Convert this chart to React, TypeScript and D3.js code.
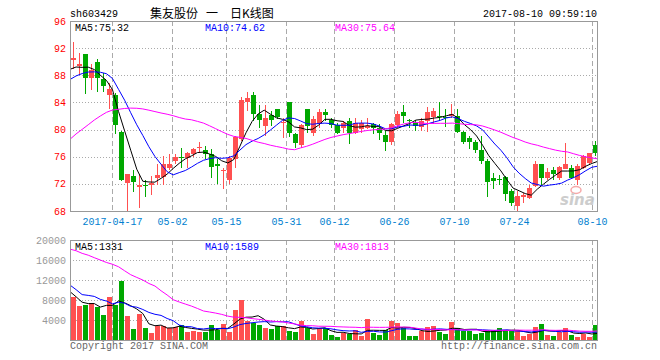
import React from "react";
import * as d3 from "d3";

// ---------- data ----------
const dates = [
  "04-06","04-07","04-10","04-11","04-12","04-13","04-14","04-17","04-18","04-19",
  "04-20","04-21","04-24","04-25","04-26","04-27","04-28","05-02","05-03","05-04",
  "05-05","05-08","05-09","05-10","05-11","05-12","05-15","05-16","05-17","05-18",
  "05-19","05-22","05-23","05-24","05-25","05-26","05-31","06-01","06-02","06-05",
  "06-06","06-07","06-08","06-09","06-12","06-13","06-14","06-15","06-16","06-19",
  "06-20","06-21","06-22","06-23","06-26","06-27","06-28","06-29","06-30","07-03",
  "07-04","07-05","07-06","07-07","07-10","07-11","07-12","07-13","07-14","07-17",
  "07-18","07-19","07-20","07-21","07-24","07-25","07-26","07-27","07-28","07-31",
  "08-01","08-02","08-03","08-04","08-07","08-08","08-09","08-10",
];
const opens = [
  90.3,89.3,91.2,87.65,89.9,87.4,85.1,85.1,79.65,72.1,
  73.2,71.6,71.9,71.9,72.9,73.0,74.4,75.3,76.0,75.8,
  76.45,77.3,76.95,76.35,75.0,73.85,72.5,75.6,78.6,84.1,
  85.1,82.25,80.6,82.1,83.0,80.95,84.0,79.3,77.7,83.0,
  79.55,80.8,82.6,81.35,80.7,80.2,81.25,79.55,80.05,80.2,
  80.75,80.2,79.2,78.1,80.7,82.65,81.45,80.9,80.4,81.2,
  81.8,81.95,81.8,82.0,82.0,79.65,78.8,78.1,77.0,75.4,
  72.8,72.7,73.05,70.95,68.75,70.0,69.9,71.7,74.9,72.9,
  74.0,72.8,74.25,74.4,72.5,74.4,75.1,77.7,
];
const highs = [
  92.9,91.3,91.2,89.6,90.45,88.4,86.8,85.4,79.8,73.5,
  74.0,73.3,72.5,73.2,75.0,76.1,76.35,76.35,77.3,76.75,
  77.35,78.1,77.6,77.1,75.7,74.4,76.1,79.05,84.8,85.6,
  85.5,83.6,83.6,82.8,83.0,81.7,84.1,79.5,80.8,83.1,
  82.0,83.0,83.1,81.75,81.0,81.25,81.65,81.65,81.45,81.65,
  81.0,80.75,79.8,81.0,82.75,83.6,81.5,81.35,81.7,83.3,
  83.2,84.05,83.0,83.7,83.0,79.8,79.05,78.4,79.05,75.6,
  73.65,73.3,73.15,71.2,70.95,70.7,71.9,75.3,75.0,74.4,
  74.5,74.7,78.0,74.8,74.9,76.25,76.6,78.3,
];
const lows = [
  88.9,88.1,85.2,85.9,85.5,85.5,83.0,79.3,72.4,68.0,
  70.8,68.5,70.1,70.4,71.9,71.9,74.1,74.9,74.4,74.4,
  75.9,76.6,75.6,72.9,72.0,71.2,72.0,74.4,78.3,82.7,
  81.3,80.3,79.05,80.5,81.5,78.8,78.9,77.35,77.3,79.5,
  79.05,80.3,81.3,80.3,79.3,79.55,77.9,79.3,79.55,80.05,
  79.3,78.5,76.85,77.8,80.3,81.0,80.3,79.8,79.8,79.6,
  80.8,81.25,80.4,81.75,79.55,77.85,77.2,76.6,74.9,70.0,
  71.2,71.8,69.5,68.75,68.0,69.2,69.75,71.55,71.9,72.5,
  72.5,72.5,74.15,72.7,71.9,74.15,74.9,76.1,
];
const closes = [
  90.6,89.7,87.55,88.73,87.65,86.4,85.93,80.7,72.6,73.4,
  72.2,71.9,71.8,72.1,73.26,75.0,75.0,76.0,75.9,76.5,
  77.2,77.45,76.35,74.5,74.7,74.0,75.85,78.9,84.3,84.6,
  82.3,81.4,81.7,81.4,81.9,81.15,79.5,78.0,80.7,80.6,
  81.5,82.6,82.15,80.7,79.55,81.0,79.55,81.0,80.9,80.5,
  80.2,79.55,78.1,80.75,82.35,82.0,81.35,80.55,81.2,82.6,
  82.8,81.85,81.7,82.25,79.7,78.1,78.2,77.0,75.3,72.2,
  72.4,72.65,70.45,69.2,70.2,70.35,71.45,74.9,72.8,73.75,
  73.5,74.5,74.9,72.9,74.65,76.1,76.5,76.5,
];
const volumes = [
  8550,6870,7070,7410,6530,5050,8550,7070,11780,4710,
  2220,5250,2490,1480,2830,2830,2360,2690,3030,1680,
  1880,1620,1680,3030,2020,3230,1680,6060,7940,3900,
  3370,3030,2490,2220,2830,2830,1820,1680,3900,2360,
  1210,2360,2350,1010,670,1350,1150,2020,870,4240,
  1480,1010,2020,3840,3500,2360,810,810,1900,2650,
  2850,1520,1140,3600,2470,1770,1770,1140,1460,2020,
  2090,2340,1710,1710,1710,760,1140,2660,3300,1100,
  750,1700,2400,1000,650,1300,650,3050,
];
// sessions before the window (only feed the moving averages)
const priorCloses = [
  66.0,67.5,68.2,66.8,68.5,69.9,70.5,69.2,69.8,70.6,
  72.5,74.8,77.6,79.5,81.2,80.4,82.6,84.0,83.1,80.5,
  84.5,84.0,86.5,87.4,87.0,88.0,87.8,88.6,89.4,
];
const priorVolumes = [
  16500,22800,18400,21500,19200,23100,17800,26800,28900,25700,
  21500,18200,22300,18000,31200,27600,31200,16800,13900,14000,
  16000,17000,9000,8500,11000,12000,12500,8800,6500,
];
const priceTicks = [96, 92, 88, 84, 80, 76, 72, 68];
const volumeTicks = [20000, 16000, 12000, 8000, 4000];
const tickDates = ["04-17","05-02","05-15","05-31","06-12","06-26","07-10","07-24","08-10"];
const tickLabels = ["2017-04-17","05-02","05-15","05-31","06-12","06-26","07-10","07-24","08-10"];
const maPeriods = [5, 10, 30];
const priceLegend = ["MA5:75.32", "MA10:74.62", "MA30:75.64"];
const volumeLegend = ["MA5:1331", "MA10:1589", "MA30:1813"];
const symbol = "sh603429";
const titleParts = ["集友股份", "一", "日K线图"];
const stamp = "2017-08-10 09:59:10";

// ---------- styles ----------
const W = 660, H = 360;
const L = 70, R = 598;
const pTop = 21, pBot = 211;
const vTop = 240, vBot = 340;
const RED = "#ff5050";
const GREEN = "#00a800";
const MA_COLORS = ["#000000", "#0000ff", "#ff00ff"];
const MONO = "'Liberation Mono', 'DejaVu Sans Mono', monospace";
const CJK = "'Noto Sans CJK SC', sans-serif";
const TITLE_X = [150, 206, 230];
const LEGEND_X = [75, 205, 335];

function movingAverage(prior: number[], series: number[], n: number): number[] {
  const all = prior.concat(series);
  const off = prior.length;
  return series.map((_, i) => d3.mean(all.slice(off + i - n + 1, off + i + 1)) as number);
}

export default function App() {
  const n = dates.length;
  const band = d3.scaleBand<string>().domain(dates).range([L, R]).paddingInner(1 / 6).paddingOuter(1 / 12);
  const lineX = d3.scaleLinear().domain([0, n - 1]).range([L, R]);
  const yP = d3.scaleLinear().domain([68, 96]).range([pBot, pTop]);
  const yV = d3.scaleLinear().domain([0, 20000]).range([vBot, vTop]);
  const bw = Math.round(band.bandwidth());

  const priceMA = maPeriods.map((p) => movingAverage(priorCloses, closes, p));
  const volMA = maPeriods.map((p) => movingAverage(priorVolumes, volumes, p));
  const lineP = d3.line<number>().x((_, i) => lineX(i)).y((d) => yP(d));
  const lineV = d3.line<number>().x((_, i) => lineX(i)).y((d) => yV(d));

  const gridX = tickDates.map((d) => Math.floor(band(d) as number) + 0.5);
  const crisp = (v: number) => Math.round(v) + 0.5;

  return (
    <svg width={W} height={H} style={{ position: "absolute", left: 0, top: 0, background: "#fff" }}>
      <rect x={0} y={0} width={W} height={H} fill="#fff" />
      {/* header */}
      <text x={70} y={17} fontFamily={MONO} fontSize={10} fill="#000">{symbol}</text>
      {titleParts.map((t, k) => (
        <text key={"t" + k} x={TITLE_X[k]} y={18} fontFamily={CJK} fontSize={12} fill="#000">{t}</text>
      ))}
      <text x={597} y={17} fontFamily={MONO} fontSize={10} fill="#000" textAnchor="end">{stamp}</text>

      {/* price grid */}
      {priceTicks.slice(1, -1).map((t) => (
        <line key={"pg" + t} x1={L} x2={R} y1={crisp(yP(t))} y2={crisp(yP(t))} stroke="#aaa" strokeDasharray="1,2" />
      ))}
      {volumeTicks.slice(1).map((t) => (
        <line key={"vg" + t} x1={L} x2={R} y1={crisp(yV(t))} y2={crisp(yV(t))} stroke="#aaa" strokeDasharray="1,2" />
      ))}
      {gridX.map((x, k) => (
        <g key={"gx" + k}>
          <line x1={x} x2={x} y1={pTop} y2={pBot} stroke="#aaa" strokeDasharray="5,3" />
          <line x1={x} x2={x} y1={vTop} y2={vBot} stroke="#aaa" strokeDasharray="5,3" />
        </g>
      ))}

      {/* axis labels */}
      {priceTicks.map((t) => (
        <text key={"pl" + t} x={66} y={yP(t)} dy="0.35em" fontFamily={MONO} fontSize={10} fill="#ff0000" textAnchor="end">{t}</text>
      ))}
      {volumeTicks.map((t) => (
        <text key={"vl" + t} x={66} y={yV(t)} dy="0.35em" fontFamily={MONO} fontSize={10} fill="#999" textAnchor="end">{t}</text>
      ))}
      {tickDates.map((d, k) => (
        <text key={"dl" + d} x={gridX[k]} y={225} fontFamily={MONO} fontSize={10} fill="#0080d0" textAnchor="middle">{tickLabels[k]}</text>
      ))}

      {/* sina mark */}
      <g opacity={0.9}>
        <ellipse cx={576} cy={190} rx={5} ry={3.5} fill="none" stroke="#f6a0a0" strokeWidth={1.5} />
        <text x={560} y={205} fontFamily="'DejaVu Sans', sans-serif" fontStyle="italic" fontWeight="bold" fontSize={15} fill="#c8c8c8">sina</text>
      </g>

      {/* candles */}
      {dates.map((d, i) => {
        const o = opens[i], c = closes[i];
        const col = c >= o ? RED : GREEN;
        const x0 = Math.floor(band(d) as number) + 1;
        const top = Math.round(yP(Math.max(o, c)));
        const bot = Math.round(yP(Math.min(o, c)));
        const hy = Math.round(yP(highs[i]));
        const ly = Math.round(yP(lows[i]));
        return (
          <g key={"c" + d}>
            <rect x={x0 + Math.floor(bw / 2)} y={hy} width={1} height={Math.max(1, ly - hy)} fill={col} />
            <rect x={x0} y={top} width={bw} height={Math.max(1, bot - top)} fill={col} />
          </g>
        );
      })}

      {/* volume bars */}
      {dates.map((d, i) => {
        const up = closes[i] >= opens[i];
        const x0 = Math.floor(band(d) as number) + 1;
        const y = Math.round(yV(volumes[i]));
        return <rect key={"v" + d} x={x0} y={y} width={bw} height={vBot - y} fill={up ? RED : GREEN} />;
      })}

      {/* moving averages */}
      {priceMA.map((s, k) => (
        <path key={"pm" + k} d={lineP(s) || ""} fill="none" stroke={MA_COLORS[k]} strokeWidth={1} />
      ))}
      {volMA.map((s, k) => (
        <path key={"vm" + k} d={lineV(s) || ""} fill="none" stroke={MA_COLORS[k]} strokeWidth={1} />
      ))}

      {/* frames */}
      <rect x={L + 0.5} y={pTop + 0.5} width={R - L - 1} height={pBot - pTop} fill="none" stroke="#999" />
      <rect x={L + 0.5} y={vTop + 0.5} width={R - L - 1} height={vBot - vTop} fill="none" stroke="#999" />

      {/* legends */}
      {priceLegend.map((t, k) => (
        <text key={"plg" + k} x={LEGEND_X[k]} y={31} fontFamily={MONO} fontSize={10} fill={MA_COLORS[k]}>{t}</text>
      ))}
      {volumeLegend.map((t, k) => (
        <text key={"vlg" + k} x={LEGEND_X[k]} y={250} fontFamily={MONO} fontSize={10} fill={MA_COLORS[k]}>{t}</text>
      ))}

      {/* footer */}
      <text x={70} y={349} fontFamily={MONO} fontSize={10} fill="#666">Copyright 2017 SINA.COM</text>
      <text x={597} y={349} fontFamily={MONO} fontSize={10} fill="#666" textAnchor="end">http://finance.sina.com.cn</text>
    </svg>
  );
}
